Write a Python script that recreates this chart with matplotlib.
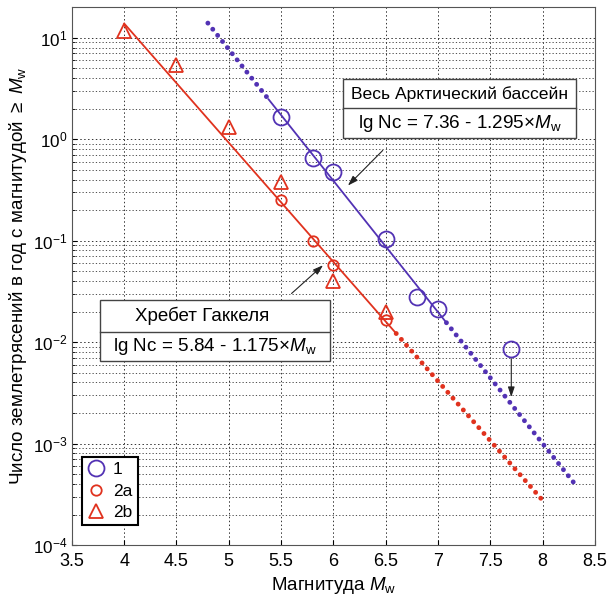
import numpy as np
import matplotlib
matplotlib.use("Agg")
import matplotlib.pyplot as plt
from matplotlib.patches import Rectangle

plt.rcParams['font.family'] = ['Liberation Sans', 'DejaVu Sans']
plt.rcParams['mathtext.fontset'] = 'custom'
plt.rcParams['mathtext.rm'] = 'Liberation Sans'
plt.rcParams['mathtext.it'] = 'Liberation Sans:italic'

# data
m1 = [5.5, 5.8, 6.0, 6.5, 6.8, 7.0, 7.7]
n1 = [1.65, 0.65, 0.48, 0.105, 0.028, 0.021, 0.0086]
m2a = [5.5, 5.8, 6.0, 6.5]
n2a = [0.25, 0.10, 0.058, 0.0165]
m2b = [4.0, 4.5, 5.0, 5.5, 6.0, 6.5]
n2b = [11.7, 5.4, 1.33, 0.38, 0.040, 0.020]

# fits lg Nc = a - b*M
a1, b1 = 7.36, 1.295
a2, b2 = 5.84, 1.175
fit1_solid = (5.38, 7.08)
fit1_dot = [(4.8, 5.38), (7.08, 8.3)]
fit2_solid = (4.0, 6.6)
fit2_dot = [(6.6, 8.0)]

blue = '#5232B4'
red = '#E0321E'

fig = plt.figure(figsize=(6.09, 5.97), dpi=100)
ax = fig.add_axes([0.118, 0.087, 0.859, 0.901])
ax.set_yscale('log')
ax.set_xlim(3.5, 8.5)
ax.set_ylim(1e-4, 20)

def fitline(a, b, x0, x1):
    x = np.linspace(x0, x1, 50)
    return x, 10 ** (a - b * x)

dot = (0, (0.01, 1.6))
x, y = fitline(a1, b1, *fit1_solid)
ax.plot(x, y, color=blue, lw=1.3)
for seg in fit1_dot:
    x, y = fitline(a1, b1, *seg)
    ax.plot(x, y, color=blue, lw=3.5, linestyle=dot, dash_capstyle='round')
x, y = fitline(a2, b2, *fit2_solid)
ax.plot(x, y, color=red, lw=1.3)
for seg in fit2_dot:
    x, y = fitline(a2, b2, *seg)
    ax.plot(x, y, color=red, lw=3.5, linestyle=dot, dash_capstyle='round')

ax.plot(m1, n1, 'o', ms=11.5, mfc='none', mec=blue, mew=1.3, label='1')
ax.plot(m2a, n2a, 'o', ms=7.5, mfc='none', mec=red, mew=1.3, label='2a')
ax.plot(m2b, n2b, '^', ms=9.5, mfc='none', mec=red, mew=1.3, label='2b')

ax.grid(True, which='major', color='#333333', linestyle=(0, (1.5, 2.5)), linewidth=0.7)
ax.grid(True, which='minor', axis='y', color='#333333', linestyle=(0, (1.5, 2.5)), linewidth=0.6)
ax.set_xticks(np.arange(3.5, 8.51, 0.5))
ax.set_xticklabels(['3.5', '4', '4.5', '5', '5.5', '6', '6.5', '7', '7.5', '8', '8.5'])
ax.tick_params(which='both', direction='in')
ax.tick_params(axis='x', pad=6, labelsize=13)
ax.tick_params(axis='y', pad=3, labelsize=12.3)
for s in ax.spines.values():
    s.set_color('#555555')

ax.set_xlabel('Магнитуда $\\mathit{M}_{\\mathrm{w}}$', fontsize=13.5, labelpad=3)
ax.set_ylabel('Число землетрясений в год с магнитудой $\\geq$ $\\mathit{M}_{\\mathrm{w}}$', fontsize=13.6)
ax.yaxis.set_label_coords(-0.082, 0.5)

# annotation boxes
def table_box(x0, x1, y0, ymid, y1, t1, t2, t1x, fs1, fs2):
    ax.add_patch(Rectangle((x0, y0), x1 - x0, y1 - y0, transform=ax.transAxes,
                           facecolor='white', edgecolor='#444444', lw=1.0, zorder=5))
    ax.plot([x0, x1], [ymid, ymid], transform=ax.transAxes, color='#444444', lw=1.0, zorder=6)
    ax.text(t1x, (ymid + y1) / 2, t1, transform=ax.transAxes, ha='center', va='center',
            fontsize=fs1, zorder=7)
    ax.text((x0 + x1) / 2, (y0 + ymid) / 2, t2, transform=ax.transAxes, ha='center', va='center',
            fontsize=fs2, zorder=7)

table_box(0.518, 0.964, 0.757, 0.812, 0.866, 'Весь Арктический бассейн',
          'lg Nc = 7.36 - 1.295$\\times$$\\mathit{M}_{\\mathrm{w}}$', 0.741, 12.6, 13.6)
table_box(0.054, 0.493, 0.343, 0.397, 0.455, 'Хребет Гаккеля',
          'lg Nc = 5.84 - 1.175$\\times$$\\mathit{M}_{\\mathrm{w}}$', 0.249, 13.5, 13.6)

arrow = dict(arrowstyle='-|>,head_length=0.6,head_width=0.2', color='#222222', lw=0.8)
ax.annotate('', xy=(6.12, 0.334), xytext=(6.49, 0.81), arrowprops=arrow, zorder=8)
ax.annotate('', xy=(5.92, 0.0597), xytext=(5.58, 0.0289), arrowprops=arrow, zorder=8)
ax.annotate('', xy=(7.7, 0.0027), xytext=(7.7, 0.0073), arrowprops=arrow, zorder=8)

leg = ax.legend(loc='lower left', bbox_to_anchor=(0.019, 0.037), fontsize=12.5, frameon=True,
                fancybox=False, handlelength=1.0, handletextpad=0.5, borderpad=0.3,
                labelspacing=0.35, borderaxespad=0)
leg.get_frame().set_edgecolor('black')
leg.get_frame().set_linewidth(1.5)
leg.get_frame().set_alpha(1)
leg.set_zorder(10)

fig.savefig('out.png', dpi=100)
